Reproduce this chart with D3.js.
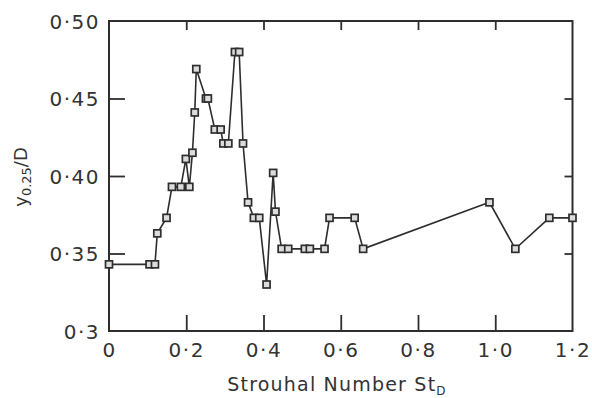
<!DOCTYPE html>
<html>
<head>
<meta charset="utf-8">
<script src="https://cdn.jsdelivr.net/npm/d3@7"></script>
<style>
  html, body { margin: 0; padding: 0; background: #fff; }
  svg { display: block; }
  text { font-family: "DejaVu Sans", sans-serif; fill: #333; }
</style>
</head>
<body>
<svg id="chart" width="592" height="398"></svg>
<script>
// ---- data ----
const strouhal = [0, 0.105, 0.119, 0.125, 0.149, 0.163, 0.186, 0.199, 0.208, 0.216, 0.222, 0.226, 0.251, 0.256, 0.274, 0.289, 0.296, 0.309, 0.326, 0.337, 0.347, 0.360, 0.375, 0.389, 0.408, 0.425, 0.431, 0.447, 0.464, 0.507, 0.520, 0.558, 0.571, 0.636, 0.658, 0.985, 1.052, 1.140, 1.200];
const y025D   = [0.343, 0.343, 0.343, 0.363, 0.373, 0.393, 0.393, 0.411, 0.393, 0.415, 0.441, 0.469, 0.450, 0.450, 0.430, 0.430, 0.421, 0.421, 0.480, 0.480, 0.421, 0.383, 0.373, 0.373, 0.330, 0.402, 0.377, 0.353, 0.353, 0.353, 0.353, 0.353, 0.373, 0.373, 0.353, 0.383, 0.353, 0.373, 0.373];
const xTicks = [0, 0.2, 0.4, 0.6, 0.8, 1.0, 1.2];
const xTickLabels = ["0", "0·2", "0·4", "0·6", "0·8", "1·0", "1·2"];
const yTicks = [0.3, 0.35, 0.40, 0.45, 0.50];
const yTickLabels = ["0·3", "0·35", "0·40", "0·45", "0·50"];

const points = strouhal.map((s, i) => ({ x: s, y: y025D[i] }));

const svg = d3.select("#chart");
const mLeft = 109, mRight = 572.5, mTop = 21, mBottom = 331;
const x = d3.scaleLinear().domain([0, 1.2]).range([mLeft, mRight]);
const y = d3.scaleLinear().domain([0.3, 0.5]).range([mBottom, mTop]);
const ink = "#2e2e2e";

// frame
svg.append("rect")
  .attr("x", mLeft).attr("y", mTop)
  .attr("width", mRight - mLeft).attr("height", mBottom - mTop)
  .attr("fill", "none").attr("stroke", ink).attr("stroke-width", 2);

// bottom axis: ticks inward (up)
const xAxisB = d3.axisBottom(x).tickValues(xTicks).tickSizeInner(-16).tickSizeOuter(0)
  .tickFormat((d, i) => xTickLabels[i]);
const gB = svg.append("g").attr("transform", `translate(0,${mBottom})`).call(xAxisB);
gB.select(".domain").remove();
gB.selectAll(".tick line").attr("stroke", ink).attr("stroke-width", 1.8)
  .filter(d => d === 0 || d === 1.2).remove();
gB.selectAll(".tick text").attr("font-size", 20).attr("letter-spacing", 1.5)
  .attr("fill", "#333").attr("y", 26).attr("dy", 0);

// top axis ticks (down)
const xAxisT = d3.axisTop(x).tickValues(xTicks.filter(d => d > 0 && d < 1.2)).tickSizeInner(-9).tickSizeOuter(0).tickFormat("");
const gT = svg.append("g").attr("transform", `translate(0,${mTop})`).call(xAxisT);
gT.select(".domain").remove();
gT.selectAll(".tick line").attr("stroke", ink).attr("stroke-width", 1.8);

// left axis: ticks inward (right)
const yAxisL = d3.axisLeft(y).tickValues(yTicks).tickSizeInner(-16).tickSizeOuter(0)
  .tickFormat((d, i) => yTickLabels[i]);
const gL = svg.append("g").attr("transform", `translate(${mLeft},0)`).call(yAxisL);
gL.select(".domain").remove();
gL.selectAll(".tick line").attr("stroke", ink).attr("stroke-width", 1.8)
  .filter(d => d === 0.3 || d === 0.5).remove();
gL.selectAll(".tick text").attr("font-size", 20).attr("letter-spacing", 1.5)
  .attr("fill", "#333").attr("x", -9).attr("dy", "0.36em");

// right axis ticks (inward, left)
const yAxisR = d3.axisRight(y).tickValues(yTicks.filter(d => d > 0.3 && d < 0.5)).tickSizeInner(-8).tickSizeOuter(0).tickFormat("");
const gR = svg.append("g").attr("transform", `translate(${mRight},0)`).call(yAxisR);
gR.select(".domain").remove();
gR.selectAll(".tick line").attr("stroke", ink).attr("stroke-width", 1.8);

// data line
const line = d3.line().x(d => x(d.x)).y(d => y(d.y));
svg.append("path").datum(points)
  .attr("d", line).attr("fill", "none").attr("stroke", ink).attr("stroke-width", 1.6);

// square markers
svg.append("g").selectAll("rect").data(points).join("rect")
  .attr("x", d => x(d.x) - 3.5).attr("y", d => y(d.y) - 3.5)
  .attr("width", 7).attr("height", 7)
  .attr("fill", "#dcdcdc").attr("stroke", ink).attr("stroke-width", 1.7);

// x title
const xt = svg.append("text").attr("x", 337).attr("y", 391).attr("text-anchor", "middle")
  .attr("font-size", 19).attr("letter-spacing", 1.2);
xt.append("tspan").text("Strouhal Number St");
xt.append("tspan").attr("font-size", 12).attr("dy", 4).text("D");

// y title
const yt = svg.append("text").attr("transform", "translate(27,177) rotate(-90)")
  .attr("text-anchor", "middle").attr("font-size", 18);
yt.append("tspan").text("y");
yt.append("tspan").attr("font-size", 13).attr("dy", 4).text("0.25");
yt.append("tspan").attr("dy", -4).text("/D");
</script>
</body>
</html>
